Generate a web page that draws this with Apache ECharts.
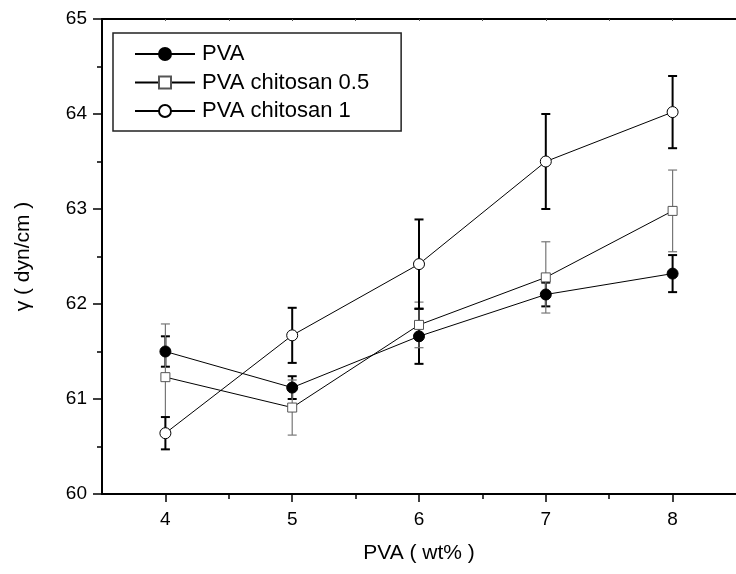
<!DOCTYPE html>
<html><head><meta charset="utf-8">
<script src="https://cdn.jsdelivr.net/npm/echarts@6/dist/echarts.min.js"></script>
<style>html,body{margin:0;padding:0;background:#fff}#c{width:736px;height:574px}</style>
</head><body><div id="c"></div>
<script>
const xValues = [4, 5, 6, 7, 8];
const pva = [61.50, 61.12, 61.66, 62.10, 62.32];
const pvaErr = [0.16, 0.12, 0.29, 0.125, 0.195];
const ch05 = [61.23, 60.91, 61.78, 62.28, 62.98];
const ch05Err = [0.56, 0.29, 0.24, 0.375, 0.43];
const ch1 = [60.64, 61.67, 62.42, 63.50, 64.02];
const ch1Err = [0.17, 0.29, 0.47, 0.50, 0.38];
const xTickLabels = [4, 5, 6, 7, 8];
const xMinorTicks = [4.5, 5.5, 6.5, 7.5];
const xTopTicks = [4, 4.5, 5, 5.5, 6, 6.5, 7, 7.5, 8];
const seriesNames = ['PVA', 'PVA chitosan 0.5', 'PVA chitosan 1'];

const FONT = '"Liberation Sans", Arial, sans-serif';

function pts(ys) { return xValues.map((x, i) => [x, ys[i]]); }
function errSeries(ys, es, color, width) {
  return {
    type: 'custom', z: 1, silent: true,
    data: xValues.map((x, i) => [x, ys[i], es[i]]),
    encode: { x: 0, y: 1 },
    renderItem: (params, api) => {
      const x = api.value(0), y = api.value(1), e = api.value(2);
      const t = api.coord([x, y + e]), b = api.coord([x, y - e]);
      const h = 4.5;
      const style = { stroke: color, lineWidth: width };
      return { type: 'group', children: [
        { type: 'line', shape: { x1: t[0], y1: t[1], x2: b[0], y2: b[1] }, style },
        { type: 'line', shape: { x1: t[0] - h, y1: t[1], x2: t[0] + h, y2: t[1] }, style },
        { type: 'line', shape: { x1: b[0] - h, y1: b[1], x2: b[0] + h, y2: b[1] }, style }
      ]};
    }
  };
}

const chart = echarts.init(document.getElementById('c'), null, { renderer: 'canvas' });
const axisLine = { show: true, onZero: false, lineStyle: { color: '#000', width: 2 } };
chart.setOption({
  animation: false,
  backgroundColor: '#fff',
  textStyle: { fontFamily: FONT },
  grid: { left: 102, top: 19, right: -11, bottom: 80, containLabel: false },
  legend: {
    data: seriesNames,
    orient: 'vertical',
    left: 113, top: 33,
    padding: [10, 32, 9, 21],
    itemWidth: 60, itemHeight: 15, itemGap: 6.5,
    borderColor: '#222', borderWidth: 1.5, backgroundColor: '#fff',
    textStyle: { fontFamily: FONT, fontSize: 22, color: '#000', lineHeight: 22, padding: [0, 0, 0, 2] }
  },
  xAxis: [
    {
      type: 'value', min: 3.5, max: 8.5, position: 'bottom',
      name: 'PVA ( wt% )', nameLocation: 'middle', nameGap: 49,
      nameTextStyle: { fontFamily: FONT, fontSize: 21, color: '#000' },
      axisLine: axisLine,
      axisTick: { show: true, inside: false, length: 8, customValues: xTickLabels, lineStyle: { color: '#000', width: 1.5 } },
      axisLabel: { show: true, customValues: xTickLabels, fontFamily: FONT, fontSize: 19, color: '#000', margin: 16 },
      splitLine: { show: false }
    },
    {
      type: 'value', min: 3.5, max: 8.5, position: 'bottom',
      axisLine: { show: false },
      axisTick: { show: true, inside: false, length: 5, customValues: xMinorTicks, lineStyle: { color: '#000', width: 1.5 } },
      axisLabel: { show: false }, splitLine: { show: false }
    },
    {
      type: 'value', min: 3.5, max: 8.5, position: 'top',
      axisLine: axisLine,
      axisTick: { show: true, inside: true, length: 2, customValues: xTopTicks, lineStyle: { color: '#555', width: 1 } },
      axisLabel: { show: false }, splitLine: { show: false }
    }
  ],
  yAxis: {
    type: 'value', min: 60, max: 65, interval: 1,
    name: 'γ ( dyn/cm )', nameLocation: 'middle', nameRotate: 90, nameGap: 68,
    nameTextStyle: { fontFamily: FONT, fontSize: 21, color: '#000' },
    axisLine: axisLine,
    axisTick: { show: true, inside: false, length: 9, lineStyle: { color: '#000', width: 1.5 } },
    minorTick: { show: true, splitNumber: 2, length: 5, lineStyle: { color: '#000', width: 1.5 } },
    axisLabel: { fontFamily: FONT, fontSize: 19, color: '#000', margin: 15 },
    splitLine: { show: false }
  },
  series: [
    errSeries(pva, pvaErr, '#000', 2),
    errSeries(ch05, ch05Err, '#777', 1.2),
    errSeries(ch1, ch1Err, '#000', 2),
    {
      name: seriesNames[0], type: 'line', z: 3, data: pts(pva),
      symbol: 'circle', symbolSize: 11,
      lineStyle: { color: '#000', width: 1 },
      itemStyle: { color: '#000', borderColor: '#000', borderWidth: 1 }
    },
    {
      name: seriesNames[1], type: 'line', z: 3, data: pts(ch05),
      symbol: 'rect', symbolSize: 9,
      lineStyle: { color: '#000', width: 1 },
      itemStyle: { color: '#fff', borderColor: '#555', borderWidth: 1 }
    },
    {
      name: seriesNames[2], type: 'line', z: 3, data: pts(ch1),
      symbol: 'circle', symbolSize: 11,
      lineStyle: { color: '#000', width: 1 },
      itemStyle: { color: '#fff', borderColor: '#000', borderWidth: 1 }
    }
  ]
});
</script></body></html>
